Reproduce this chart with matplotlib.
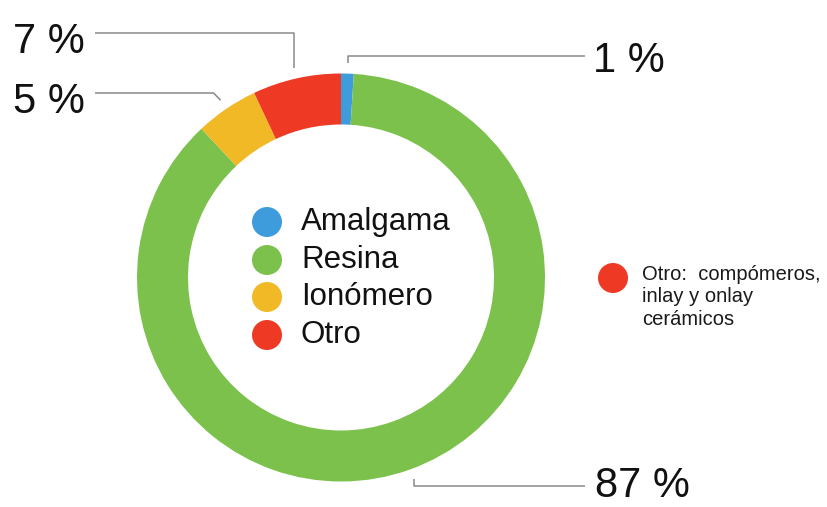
import numpy as np
import matplotlib
matplotlib.use("Agg")
import matplotlib.pyplot as plt
from matplotlib.patches import Circle

# ---- data ----
categories = ["Amalgama", "Resina", "Ionómero", "Otro"]
values = [1, 87, 5, 7]
pct_labels = ["1 %", "87 %", "5 %", "7 %"]
colors = ["#3F9CDC", "#7BC14C", "#F2B927", "#EE3A24"]
note_text = "Otro:  compómeros,\ninlay y onlay\ncerámicos"

W, H = 827, 507
plt.rcParams['font.family'] = ['Liberation Sans', 'DejaVu Sans']

fig = plt.figure(figsize=(W / 100, H / 100), dpi=100)
ax = fig.add_axes([0, 0, 1, 1])

def py(y):  # pixel row -> data y
    return H - y

cx, cy = 341, py(277.5)
R, ring = 204, 51

wedges, _ = ax.pie(values, colors=colors, startangle=90, counterclock=False,
                   radius=R, center=(cx, cy),
                   wedgeprops=dict(width=ring, edgecolor='none', linewidth=0))
ax.set_xlim(0, W)
ax.set_ylim(0, H)
ax.set_aspect('equal')
ax.axis('off')

# ---- leader lines and percentage labels ----
label_y = [56, 486, 93, 33]          # pixel rows of horizontal leader segments
line_end_x = [585, 585, 95, 95]
elbow_dx = [0, 0, -7, 0]
text_x = [593, 595, 85, 85]
text_ha = ['left', 'left', 'right', 'right']
text_base = [72, 497, 113, 53]

for w, ly, ex, edx, tx, ha, tb, lab in zip(wedges, label_y, line_end_x, elbow_dx,
                                            text_x, text_ha, text_base, pct_labels):
    ang = np.deg2rad((w.theta1 + w.theta2) / 2)
    ax_ = cx + 1.05 * R * np.cos(ang)
    ay_ = cy + 1.05 * R * np.sin(ang)
    ax.plot([ax_, ax_ + edx, ex], [ay_, py(ly), py(ly)], color='#8a8a8a', lw=1.1,
            solid_capstyle='butt')
    ax.text(tx, py(tb), lab, ha=ha, va='baseline', fontsize=30, color='#111111')

# ---- centre legend ----
leg_y = [222, 260, 297, 335]
for name, col, ly in zip(categories, colors, leg_y):
    ax.add_patch(Circle((267, py(ly)), 15, color=col, lw=0))
    ax.text(301, py(ly), name, ha='left', va='center', fontsize=22.5, color='#111111')

# ---- side note ----
ax.add_patch(Circle((613, py(278)), 15, color=colors[3], lw=0))
ax.text(642, py(265), note_text, ha='left', va='top', fontsize=14.5,
        color='#1a1a1a', linespacing=1.22)

fig.savefig("out.png", dpi=100, facecolor='white')
